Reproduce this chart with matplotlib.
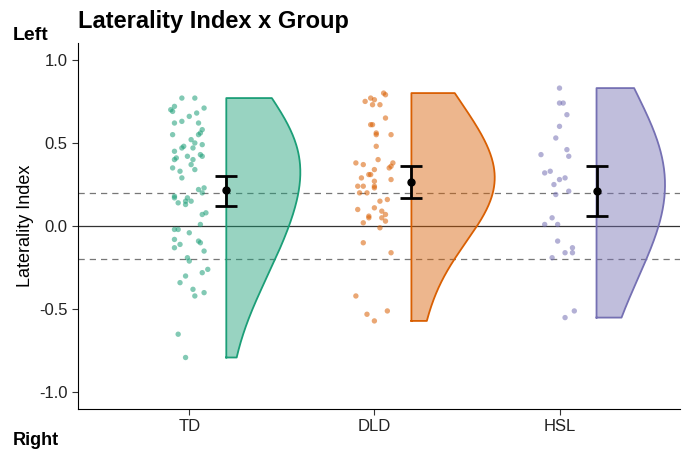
import numpy as np
import matplotlib
matplotlib.use("Agg")
import matplotlib.pyplot as plt

plt.rcParams["font.family"] = ["Liberation Sans", "DejaVu Sans"]

groups = ["TD", "DLD", "HSL"]
colors = ["#1b9e77", "#d95f02", "#7570b3"]

td_vals = [0.77, 0.77, 0.72, 0.70, 0.69, 0.71, 0.66, 0.68, 0.63, 0.62, 0.62, 0.58, 0.56, 0.55,
           0.55, 0.52, 0.50, 0.48, 0.47, 0.49, 0.47, 0.45, 0.42, 0.41, 0.40, 0.40, 0.43, 0.42,
           0.37, 0.35, 0.34, 0.33, 0.29, 0.22, 0.23, 0.20, 0.18, 0.17, 0.17, 0.15, 0.15, 0.14,
           0.13, 0.07, 0.08, 0.01, -0.02, -0.02, -0.04, -0.08, -0.11, -0.09, -0.10, -0.13,
           -0.15, -0.19, -0.21, -0.26, -0.28, -0.30, -0.34, -0.38, -0.40, -0.42, -0.65, -0.79]
td_jit = [-0.04, 0.03, -0.08, -0.10, -0.09, 0.08, 0.00, 0.04, -0.04, -0.08, 0.05, 0.07, 0.06, 0.05,
          -0.09, 0.01, 0.03, -0.03, -0.04, 0.07, 0.02, -0.08, -0.01, -0.07, -0.08, 0.02, 0.06, 0.07,
          0.01, -0.09, 0.03, -0.05, -0.04, 0.05, 0.08, 0.07, -0.08, -0.08, -0.01, -0.02, 0.01, -0.06,
          -0.02, 0.07, 0.09, 0.06, -0.08, -0.06, 0.00, -0.08, -0.05, 0.05, 0.06, -0.08,
          0.08, -0.01, 0.00, 0.10, 0.07, -0.02, -0.05, 0.02, 0.08, 0.03, -0.06, -0.02]

dld_vals = [0.80, 0.79, 0.75, 0.77, 0.76, 0.73, 0.73, 0.65, 0.61, 0.61, 0.56, 0.55, 0.55, 0.48,
            0.40, 0.38, 0.37, 0.38, 0.36, 0.35, 0.34, 0.31, 0.31, 0.29, 0.28, 0.27, 0.24, 0.24,
            0.24, 0.23, 0.20, 0.20, 0.16, 0.15, 0.11, 0.10, 0.09, 0.07, 0.06, 0.05, 0.05, 0.03,
            0.02, -0.01, -0.10, -0.16, -0.42, -0.51, -0.53, -0.57]
dld_jit = [0.05, 0.06, -0.05, -0.02, 0.00, -0.01, 0.03, 0.06, -0.02, -0.01, 0.01, 0.01, 0.09, 0.01,
           0.02, -0.10, -0.06, 0.10, 0.09, 0.08, 0.00, -0.03, -0.02, -0.07, 0.09, 0.00, -0.09, -0.06,
           0.00, 0.00, -0.08, -0.04, 0.07, 0.03, 0.00, -0.09, 0.04, 0.06, -0.03, -0.03, 0.04, 0.06,
           -0.06, 0.03, -0.06, 0.09, -0.10, 0.07, -0.04, 0.00]

hsl_vals = [0.83, 0.74, 0.74, 0.67, 0.60, 0.53, 0.46, 0.43, 0.42, 0.32, 0.33, 0.28, 0.29, 0.25,
            0.19, 0.21, 0.05, 0.01, 0.01, -0.09, -0.16, -0.16, -0.13, -0.19, -0.51, -0.55]
hsl_jit = [0.00, 0.00, 0.02, 0.04, 0.00, -0.02, 0.04, -0.10, 0.05, -0.08, -0.05, 0.00, 0.03, -0.03,
           -0.02, 0.05, -0.04, -0.08, -0.01, -0.01, 0.03, 0.07, 0.07, -0.04, 0.08, 0.03]

# mean and 95% CI
means = [0.217, 0.263, 0.213]
ci_low = [0.122, 0.169, 0.062]
ci_high = [0.303, 0.360, 0.361]

values = [td_vals, dld_vals, hsl_vals]
jitters = [td_jit, dld_jit, hsl_jit]
widths = [0.40, 0.45, 0.37]


def kde(data, grid, adjust=2.2):
    data = np.asarray(data)
    n = len(data)
    iqr = np.subtract(*np.percentile(data, [75, 25]))
    bw = adjust * 0.9 * min(data.std(ddof=1), iqr / 1.34) * n ** (-0.2)
    z = (grid[:, None] - data[None, :]) / bw
    return np.exp(-0.5 * z ** 2).sum(axis=1) / (n * bw * np.sqrt(2 * np.pi))


fig = plt.figure(figsize=(6.86, 4.5), dpi=100)
ax = fig.add_axes([0.114, 0.091, 0.877, 0.813])

ax.axhline(0, color="#333333", lw=0.9, zorder=1)
for h in [0.2, -0.2]:
    ax.axhline(h, color="#777777", lw=0.9, ls=(0, (5, 4)), zorder=1)

for i, g in enumerate(groups):
    pos = i + 1
    vals = np.array(values[i])
    ax.scatter(pos + np.array(jitters[i]), vals, s=15, color=colors[i], alpha=0.55,
               edgecolors="none", zorder=3)

    grid = np.linspace(vals.min(), vals.max(), 200)
    d = kde(vals, grid)
    d = d / d.max() * widths[i]
    x0 = pos + 0.2
    xs = np.concatenate([[x0], x0 + d, [x0]])
    ys = np.concatenate([[grid[0]], grid, [grid[-1]]])
    ax.fill(xs, ys, facecolor=colors[i], alpha=0.45, edgecolor="none", zorder=2)
    ax.plot(np.append(xs, x0), np.append(ys, grid[0]), color=colors[i], lw=1.3, zorder=2)

    ax.errorbar(x0, means[i], yerr=[[means[i] - ci_low[i]], [ci_high[i] - means[i]]],
                fmt="o", color="black", ms=5, lw=2, capsize=8, capthick=2, zorder=4)

ax.set_xlim(0.40, 3.65)
ax.set_ylim(-1.1, 1.1)
ax.set_xticks([1, 2, 3])
ax.set_xticklabels(groups, fontsize=12)
ax.set_yticks([-1.0, -0.5, 0.0, 0.5, 1.0])
ax.set_yticklabels(["-1.0", "-0.5", "0.0", "0.5", "1.0"], fontsize=12)
ax.tick_params(length=4, color="#333333", labelcolor="#222222")
ax.set_ylabel("Laterality Index", fontsize=13)
for s in ["top", "right"]:
    ax.spines[s].set_visible(False)

ax.set_title("Laterality Index x Group", loc="left", fontsize=17, fontweight="bold", pad=11)
fig.text(0.018, 0.912, "Left", fontsize=14, fontweight="bold")
fig.text(0.018, 0.012, "Right", fontsize=13, fontweight="bold")

fig.savefig("out.png", dpi=100)
